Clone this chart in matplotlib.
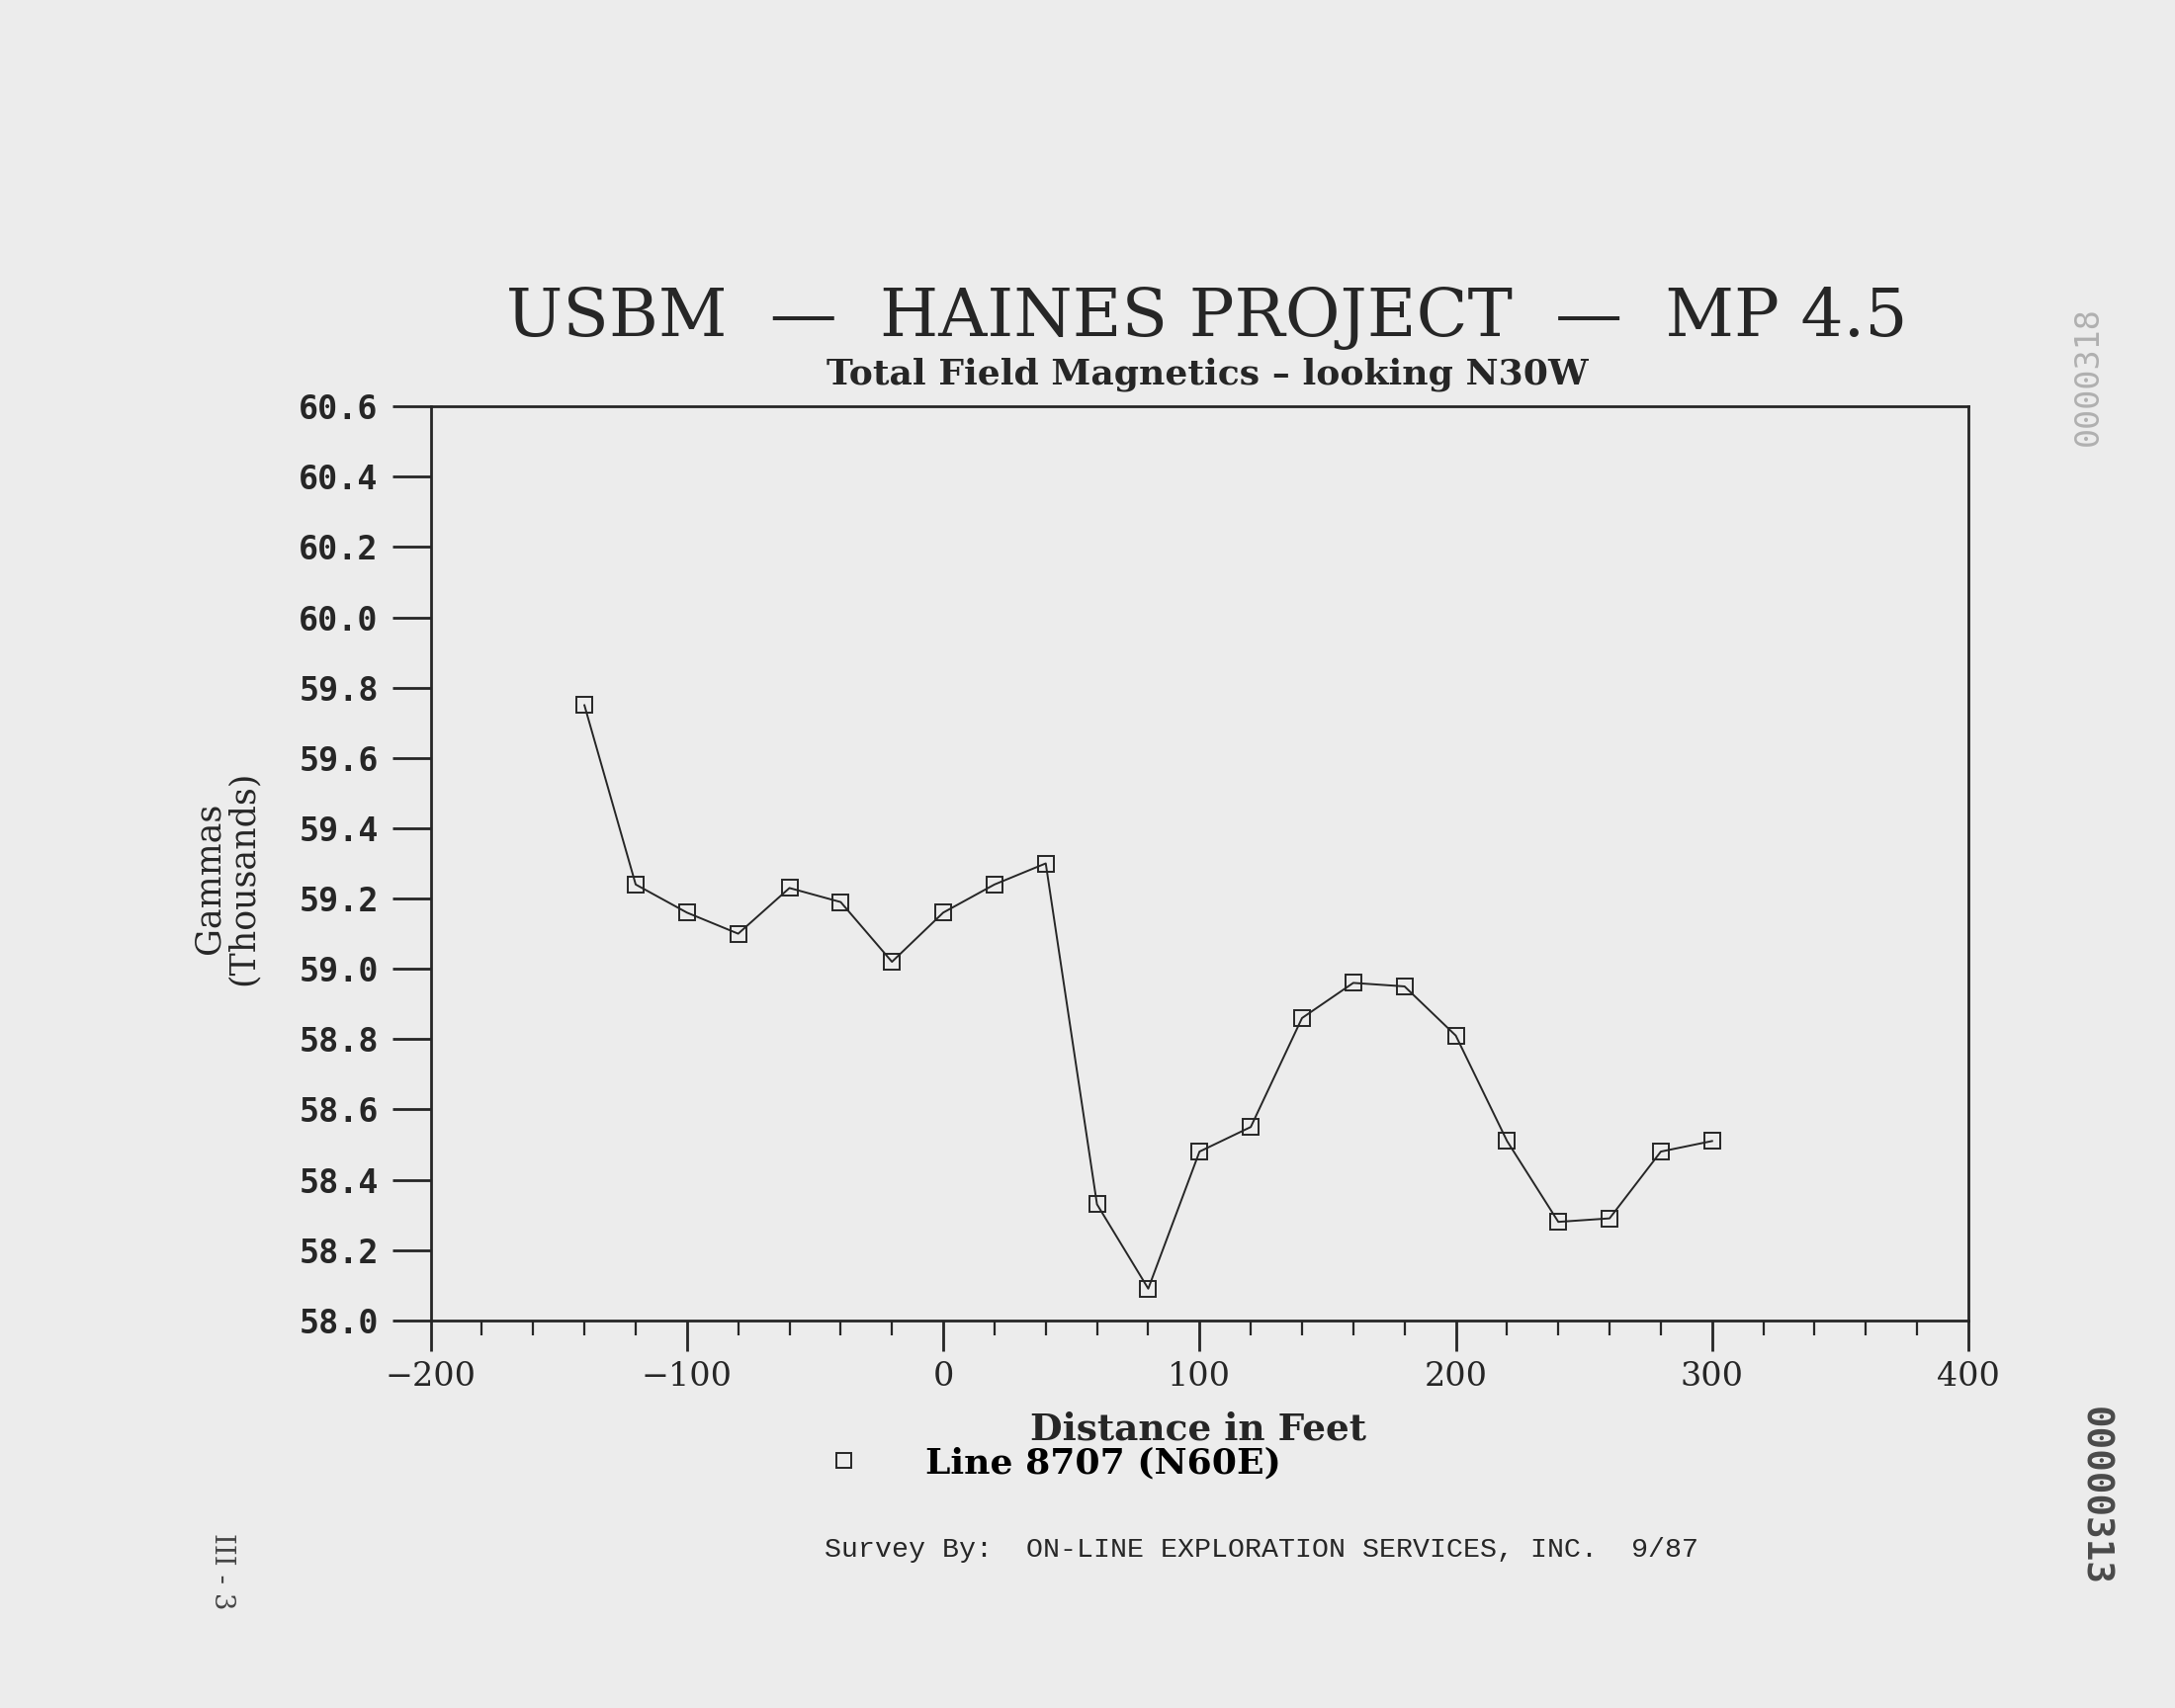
import matplotlib.pyplot as plt
from matplotlib.ticker import MultipleLocator

# survey points, distance in feet vs total field (thousands of gammas)
distance = [-140, -120, -100, -80, -60, -40, -20, 0, 20, 40, 60, 80, 100,
            120, 140, 160, 180, 200, 220, 240, 260, 280, 300]
gammas = [59.75, 59.24, 59.16, 59.10, 59.23, 59.19, 59.02, 59.16, 59.24, 59.30,
          58.33, 58.09, 58.48, 58.55, 58.86, 58.96, 58.95, 58.81, 58.51,
          58.28, 58.29, 58.48, 58.51]
yticks = [58.0, 58.2, 58.4, 58.6, 58.8, 59.0, 59.2, 59.4, 59.6, 59.8, 60.0, 60.2, 60.4, 60.6]
xticks = [-200, -100, 0, 100, 200, 300, 400]

ink = '#262626'
paper = '#ececec'

fig = plt.figure(figsize=(22, 17.28), dpi=100, facecolor=paper)
ax = fig.add_axes([0.198, 0.227, 0.707, 0.535])
ax.set_facecolor(paper)

ax.plot(distance, gammas, color=ink, lw=1.4, marker='s', ms=12,
        mfc='none', mec=ink, mew=1.4, label='Line 8707 (N60E)')

ax.set_xlim(-200, 400)
ax.set_ylim(58.0, 60.6)
ax.set_xticks(xticks)
ax.set_xticklabels(['\u2212200', '\u2212100', '0', '100', '200', '300', '400'],
                   family='DejaVu Serif', fontsize=24)
ax.xaxis.set_minor_locator(MultipleLocator(20))
ax.set_yticks(yticks)
ax.set_yticklabels([f'{v:.1f}' for v in yticks], family='DejaVu Sans Mono',
                   fontweight='bold', fontsize=24)

for s in ax.spines.values():
    s.set_linewidth(2)
    s.set_color(ink)
ax.tick_params(axis='y', direction='out', length=28, width=2, color=ink,
               labelcolor=ink, pad=10)
ax.tick_params(axis='x', which='major', direction='out', length=22, width=2,
               color=ink, labelcolor=ink, pad=8)
ax.tick_params(axis='x', which='minor', direction='out', length=11, width=1.6,
               color=ink)

fig.text(0.555, 0.814, 'USBM  \u2014  HAINES PROJECT  \u2014  MP 4.5', ha='center', va='center',
         family='DejaVu Serif', fontsize=49, color=ink)
fig.text(0.555, 0.781, 'Total Field Magnetics \u2013 looking N30W', ha='center', va='center',
         family='DejaVu Serif', fontweight='bold', fontsize=26, color=ink)

fig.text(0.104, 0.486, 'Gammas\n(Thousands)', ha='center', va='center', rotation=90,
         family='DejaVu Serif', fontsize=25, color=ink, linespacing=1.0)
fig.text(0.551, 0.163, 'Distance in Feet', ha='center', va='center',
         family='DejaVu Serif', fontweight='bold', fontsize=27, color=ink)

ax.legend(loc='center left', bbox_to_anchor=(0.373, 0.1435), bbox_transform=fig.transFigure,
          frameon=False, prop={'family': 'DejaVu Serif', 'weight': 'bold', 'size': 26},
          handlelength=0, handletextpad=2.3, markerscale=0.9)

fig.text(0.379, 0.0926, 'Survey By:  ON-LINE EXPLORATION SERVICES, INC.  9/87',
         ha='left', va='center', family='Liberation Mono', fontsize=20.3, color=ink)

fig.text(0.102, 0.08, 'III - 3', ha='center', va='center', rotation=-90,
         family='DejaVu Serif', fontsize=20, color='#444444')
fig.text(0.963, 0.124, '00000313', ha='center', va='center', rotation=-90,
         family='DejaVu Sans Mono', fontweight='bold', fontsize=27, color='#4a4a4a')
fig.text(0.960, 0.78, '0000318', ha='center', va='center', rotation=90,
         family='DejaVu Sans Mono', fontsize=24, color='#b0b0b0')

fig.savefig('out.png', dpi=100, facecolor=paper)
